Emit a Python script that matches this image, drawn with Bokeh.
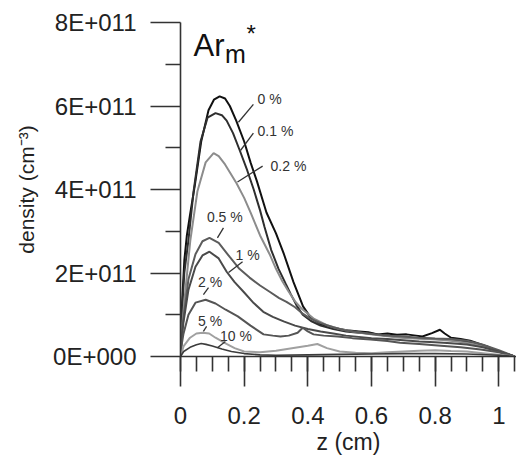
from bokeh.plotting import figure
from bokeh.models import FixedTicker, Range1d, Label
from bokeh.embed import file_html
from bokeh.resources import INLINE

# ---- data (z in cm, density in units of 1e11 cm^-3) ----
series_names = ["0 %", "0.1 %", "0.2 %", "0.5 %", "1 %", "2 %", "5 %", "10 %"]

z_0 = [0, 0.005, 0.012, 0.02, 0.03, 0.045, 0.065, 0.088, 0.105, 0.123, 0.14, 0.155, 0.175, 0.2, 0.22, 0.24,
       0.27, 0.3, 0.325, 0.355, 0.385, 0.41, 0.44, 0.47, 0.5, 0.53, 0.56, 0.59, 0.62, 0.65, 0.68, 0.71, 0.74,
       0.76, 0.79, 0.815, 0.83, 0.85, 0.88, 0.91, 0.94, 0.97, 1.0, 1.05]
n_0 = [0, 1.3, 2.3, 2.9, 3.4, 4.1, 5.15, 5.9, 6.15, 6.23, 6.18, 6.0, 5.65, 5.15, 4.65, 4.2,
       3.45, 2.95, 2.45, 1.78, 1.2, 0.92, 0.78, 0.7, 0.66, 0.62, 0.6, 0.58, 0.53, 0.55, 0.52, 0.53, 0.5,
       0.48, 0.56, 0.64, 0.55, 0.45, 0.42, 0.38, 0.3, 0.22, 0.12, 0.0]

z_01 = [0, 0.005, 0.012, 0.025, 0.041, 0.063, 0.085, 0.11, 0.13, 0.145, 0.165, 0.186, 0.21, 0.23, 0.25, 0.264,
        0.285, 0.308, 0.33, 0.346, 0.365, 0.384, 0.41, 0.44, 0.48, 0.52, 0.56, 0.6, 0.64, 0.68, 0.72, 0.76,
        0.8, 0.84, 0.88, 0.92, 0.96, 1.0, 1.05]
n_01 = [0, 1.1, 2.0, 2.79, 3.95, 5.15, 5.72, 5.83, 5.78, 5.65, 5.35, 4.94, 4.45, 4.0, 3.5, 3.1,
        2.55, 2.1, 1.75, 1.5, 1.22, 1.0, 0.85, 0.74, 0.66, 0.6, 0.57, 0.55, 0.5, 0.47, 0.45, 0.44,
        0.42, 0.4, 0.37, 0.33, 0.24, 0.12, 0.0]

z_02 = [0, 0.006, 0.013, 0.031, 0.053, 0.079, 0.104, 0.12, 0.14, 0.176, 0.2, 0.22, 0.25, 0.28, 0.3, 0.32,
        0.34, 0.36, 0.38, 0.42, 0.46, 0.5, 0.54, 0.58, 0.63, 0.68, 0.72, 0.77, 0.82, 0.87, 0.92, 0.96, 1.0, 1.05]
n_02 = [0, 0.8, 1.4, 2.79, 3.95, 4.65, 4.87, 4.8, 4.6, 4.15, 3.8, 3.45, 2.9, 2.45, 2.1, 1.8,
        1.55, 1.32, 1.15, 0.9, 0.75, 0.66, 0.6, 0.55, 0.5, 0.46, 0.44, 0.42, 0.4, 0.36, 0.3, 0.22, 0.12, 0.0]

z_05 = [0, 0.004, 0.009, 0.025, 0.047, 0.069, 0.091, 0.12, 0.154, 0.185, 0.217, 0.25, 0.28, 0.31, 0.333,
        0.36, 0.385, 0.41, 0.44, 0.48, 0.52, 0.56, 0.6, 0.65, 0.7, 0.75, 0.8, 0.85, 0.9, 0.95, 1.0, 1.05]
n_05 = [0, 0.5, 0.9, 1.85, 2.45, 2.76, 2.84, 2.72, 2.39, 2.1, 1.89, 1.7, 1.55, 1.4, 1.31,
        1.18, 1.02, 0.9, 0.8, 0.7, 0.62, 0.58, 0.54, 0.5, 0.48, 0.45, 0.43, 0.42, 0.38, 0.28, 0.15, 0.0]

z_1 = [0, 0.004, 0.009, 0.025, 0.047, 0.069, 0.091, 0.12, 0.145, 0.17, 0.198, 0.23, 0.26, 0.29, 0.324,
       0.36, 0.4, 0.44, 0.48, 0.52, 0.56, 0.6, 0.65, 0.7, 0.75, 0.8, 0.85, 0.9, 0.95, 1.0, 1.05]
n_1 = [0, 0.45, 0.8, 1.6, 2.15, 2.42, 2.51, 2.35, 2.03, 1.78, 1.55, 1.28, 1.07, 0.95, 0.84,
       0.74, 0.66, 0.6, 0.55, 0.5, 0.47, 0.44, 0.42, 0.39, 0.36, 0.34, 0.32, 0.29, 0.22, 0.12, 0.0]

z_2 = [0, 0.004, 0.009, 0.025, 0.047, 0.079, 0.11, 0.142, 0.18, 0.22, 0.261, 0.29, 0.314, 0.34, 0.368,
       0.384, 0.4, 0.418, 0.45, 0.494, 0.54, 0.597, 0.65, 0.69, 0.75, 0.818, 0.88, 0.943, 1.0, 1.05]
n_2 = [0, 0.3, 0.53, 1.0, 1.29, 1.36, 1.27, 1.12, 0.96, 0.74, 0.53, 0.5, 0.48, 0.5, 0.57,
       0.69, 0.6, 0.53, 0.5, 0.48, 0.44, 0.41, 0.37, 0.33, 0.3, 0.26, 0.22, 0.17, 0.1, 0.0]

z_5 = [0, 0.01, 0.03, 0.05, 0.07, 0.09, 0.11, 0.14, 0.17, 0.2, 0.25, 0.3, 0.35, 0.4, 0.43, 0.46, 0.5,
       0.55, 0.6, 0.65, 0.7, 0.75, 0.8, 0.85, 0.9, 0.95, 1.0, 1.05]
n_5 = [0, 0.25, 0.45, 0.55, 0.57, 0.55, 0.45, 0.32, 0.2, 0.12, 0.1, 0.14, 0.2, 0.26, 0.3, 0.2, 0.12,
       0.09, 0.08, 0.1, 0.12, 0.14, 0.15, 0.13, 0.12, 0.08, 0.04, 0.0]

z_10 = [0, 0.01, 0.03, 0.05, 0.065, 0.08, 0.1, 0.13, 0.16, 0.2, 0.25, 0.3, 0.4, 0.5, 0.6, 0.7, 0.8, 0.9, 1.0, 1.05]
n_10 = [0, 0.12, 0.22, 0.28, 0.31, 0.29, 0.25, 0.18, 0.12, 0.07, 0.04, 0.03, 0.04, 0.05, 0.06, 0.07, 0.07,
        0.06, 0.03, 0.0]

x_ticks = [0, 0.2, 0.4, 0.6, 0.8, 1.0]
x_tick_labels = ["0", "0.2", "0.4", "0.6", "0.8", "1"]
y_ticks = [0, 2e11, 4e11, 6e11, 8e11]
y_tick_labels = ["0E+000", "2E+011", "4E+011", "6E+011", "8E+011"]
x_title = "z (cm)"
y_title = "density (cm⁻³)"

# series label positions (z, density/1e11) and leader lines
label_z = [0.242, 0.242, 0.283, 0.083, 0.173, 0.055, 0.055, 0.124]
label_n = [6.16, 5.40, 4.56, 3.34, 2.44, 1.79, 0.84, 0.50]
lead_z0 = [0.229, 0.229, 0.258, 0.135, 0.195, 0.088, 0.082, 0.141]
lead_n0 = [6.04, 5.35, 4.56, 3.08, 2.27, 1.65, 0.72, 0.36]
lead_z1 = [0.182, 0.189, 0.179, 0.116, 0.151, 0.072, 0.072, 0.116]
lead_n1 = [5.61, 4.94, 4.18, 2.84, 2.01, 1.48, 0.60, 0.21]

SCALE = 1e11
series_z = [z_0, z_01, z_02, z_05, z_1, z_2, z_5, z_10]
series_n = [n_0, n_01, n_02, n_05, n_1, n_2, n_5, n_10]
colors = ["#111111", "#2e2e2e", "#8c8c8c", "#5c5c5c", "#4a4a4a", "#555555", "#a0a0a0", "#3c3c3c"]
widths = [2, 2, 2, 2, 2, 2, 2, 1.6]

FONT = "Liberation Sans"

p = figure(width=516, height=457, output_backend="svg", toolbar_location=None,
           x_range=Range1d(0, 1.0556), y_range=Range1d(0, 8e11),
           min_border_left=180, min_border_right=0, min_border_top=22, min_border_bottom=100)
p.outline_line_color = None
p.xgrid.visible = False
p.ygrid.visible = False
p.background_fill_color = "white"
p.border_fill_color = "white"

for zs, ns, c, w in zip(series_z, series_n, colors, widths):
    p.line(zs, [v * SCALE for v in ns], line_color=c, line_width=w)

p.segment(x0=lead_z0, y0=[v * SCALE for v in lead_n0], x1=lead_z1, y1=[v * SCALE for v in lead_n1],
          line_color="#333333", line_width=1.3)

for name, lz, ln in zip(series_names, label_z, label_n):
    p.add_layout(Label(x=lz, y=ln * SCALE, text=name, text_font=FONT, text_font_size="14px",
                       text_color="#333333", text_baseline="middle", text_align="left"))

# title Ar_m*
title_z = [0.041, 0.14, 0.207]
title_n = [7.45, 7.24, 8.05]
p.add_layout(Label(x=title_z[0], y=title_n[0] * SCALE, text="Ar", text_font=FONT, text_font_size="31px",
                   text_color="#111111", text_baseline="alphabetic"))
p.add_layout(Label(x=title_z[1], y=title_n[1] * SCALE, text="m", text_font=FONT, text_font_size="25px",
                   text_color="#111111", text_baseline="alphabetic"))
p.add_layout(Label(x=title_z[2], y=title_n[2] * SCALE, text="*", text_font=FONT, text_font_size="24px",
                   text_color="#111111", text_baseline="top"))

for ax in (p.xaxis[0], p.yaxis[0]):
    ax.axis_line_color = "#333333"
    ax.axis_line_width = 1.6
    ax.major_tick_line_color = "#333333"
    ax.major_tick_line_width = 1.6
    ax.minor_tick_line_color = "#333333"
    ax.minor_tick_line_width = 1.6
    ax.major_tick_in = 0
    ax.major_tick_out = 30
    ax.minor_tick_in = 0
    ax.minor_tick_out = 15
    ax.major_label_text_font = FONT
    ax.major_label_text_font_size = "24px"
    ax.major_label_text_color = "#222222"
    ax.axis_label_text_font = FONT
    ax.axis_label_text_font_style = "normal"
    ax.axis_label_text_color = "#222222"

p.xaxis.ticker = FixedTicker(ticks=x_ticks, minor_ticks=[i * 0.05 for i in range(22)])
p.xaxis.major_label_overrides = {t: l for t, l in zip(x_ticks, x_tick_labels)}
p.xaxis.axis_label = x_title
p.xaxis.axis_label_text_font_size = "23px"
p.xaxis.major_label_standoff = 20
p.xaxis.axis_label_standoff = 2
p.xaxis.major_label_text_line_height = 0.9
p.xaxis.axis_label_text_line_height = 0.9

p.yaxis.ticker = FixedTicker(ticks=y_ticks, minor_ticks=[1e11, 3e11, 5e11, 7e11])
p.yaxis.major_label_overrides = {t: l for t, l in zip(y_ticks, y_tick_labels)}
p.yaxis.axis_label = y_title
p.yaxis.axis_label_text_font_size = "21px"
p.yaxis.major_label_standoff = 14
p.yaxis.axis_label_standoff = 12

open("out.html", "w").write(file_html(p, INLINE))
